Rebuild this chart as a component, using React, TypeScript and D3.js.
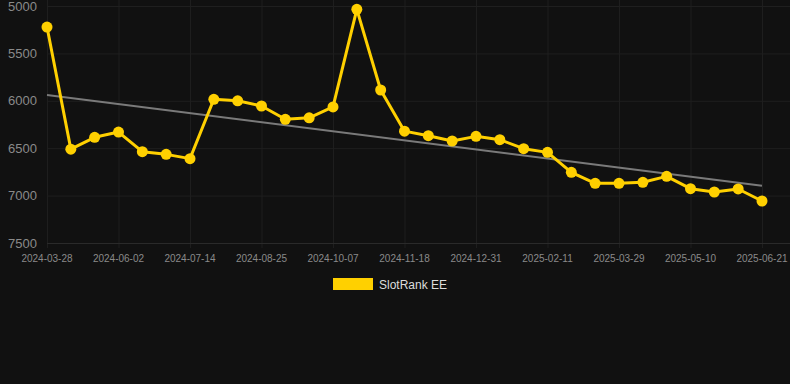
import React, { useEffect, useRef } from "react";
import * as d3 from "d3";

const dates = [
  "2024-03-28", "2024-04-19", "2024-05-11", "2024-06-02", "2024-06-16", "2024-06-30",
  "2024-07-14", "2024-07-28", "2024-08-11", "2024-08-25", "2024-09-08", "2024-09-22",
  "2024-10-07", "2024-10-21", "2024-11-04", "2024-11-18", "2024-12-02", "2024-12-16",
  "2024-12-31", "2025-01-14", "2025-01-28", "2025-02-11", "2025-02-26", "2025-03-13",
  "2025-03-29", "2025-04-12", "2025-04-26", "2025-05-10", "2025-05-24", "2025-06-07",
  "2025-06-21",
];
const ranks = [
  5222, 6510, 6385, 6330, 6537, 6565, 6610, 5984, 6000, 6055, 6195, 6180, 6065, 5035,
  5886, 6320, 6368, 6424, 6375, 6410, 6505, 6544, 6754, 6870, 6870, 6860, 6797, 6927,
  6962, 6930, 7057,
];
const trendValues = [5939, 6895];
const yTicks = [5000, 5500, 6000, 6500, 7000, 7500];
const seriesName = "SlotRank EE";

const W = 790;
const H = 384;
const M = { left: 47, right: 28, top: 6, bottom: 141 };

export default function App() {
  const ref = useRef<SVGSVGElement>(null);

  useEffect(() => {
    document.body.style.margin = "0";
    document.body.style.background = "#111111";
    const svg = d3.select(ref.current);
    svg.selectAll("*").remove();

    const x = d3.scalePoint<string>().domain(dates).range([M.left, W - M.right]);
    const y = d3.scaleLinear().domain([5000, 7500]).range([M.top, H - M.bottom]);
    const font = "Helvetica, Arial, 'Liberation Sans', sans-serif";

    svg.append("rect").attr("width", W).attr("height", H).attr("fill", "#111111");

    const labelDates = dates.filter((_, i) => i % 3 === 0);

    // vertical grid
    svg.append("g")
      .selectAll("line")
      .data(labelDates)
      .join("line")
      .attr("x1", (d) => x(d)! + 0.5)
      .attr("x2", (d) => x(d)! + 0.5)
      .attr("y1", 0)
      .attr("y2", H - M.bottom + 5)
      .attr("stroke", "#1e1e1e")
      .attr("stroke-width", 1);

    // horizontal grid
    svg.append("g")
      .selectAll("line")
      .data(yTicks)
      .join("line")
      .attr("x1", M.left)
      .attr("x2", W)
      .attr("y1", (d) => y(d) + 0.5)
      .attr("y2", (d) => y(d) + 0.5)
      .attr("stroke", (d) => (d === 7500 ? "#2a2a2a" : "#1f1f1f"))
      .attr("stroke-width", 1);

    // y labels
    svg.append("g")
      .selectAll("text")
      .data(yTicks)
      .join("text")
      .attr("x", 37)
      .attr("y", (d) => y(d))
      .attr("dy", "0.35em")
      .attr("text-anchor", "end")
      .attr("font-family", font)
      .attr("font-size", 13)
      .attr("fill", "#8a8a8a")
      .text((d) => String(d));

    // x labels
    svg.append("g")
      .selectAll("text")
      .data(labelDates)
      .join("text")
      .attr("x", (d) => x(d)!)
      .attr("y", H - M.bottom + 19)
      .attr("text-anchor", "middle")
      .attr("font-family", font)
      .attr("font-size", 10)
      .attr("fill", "#8a8a8a")
      .text((d) => d);

    // trend line
    svg.append("line")
      .attr("x1", x(dates[0])!)
      .attr("x2", x(dates[dates.length - 1])!)
      .attr("y1", y(trendValues[0]))
      .attr("y2", y(trendValues[1]))
      .attr("stroke", "#7a7a7a")
      .attr("stroke-width", 2);

    const data = dates.map((d, i) => ({ d, v: ranks[i] }));
    const line = d3.line<{ d: string; v: number }>()
      .x((p) => x(p.d)!)
      .y((p) => y(p.v));

    svg.append("path")
      .datum(data)
      .attr("d", line)
      .attr("fill", "none")
      .attr("stroke", "#FFD000")
      .attr("stroke-width", 3)
      .attr("stroke-linejoin", "round");

    svg.append("g")
      .selectAll("circle")
      .data(data)
      .join("circle")
      .attr("cx", (p) => x(p.d)!)
      .attr("cy", (p) => y(p.v))
      .attr("r", 5.5)
      .attr("fill", "#FFD000");

    // legend
    svg.append("rect")
      .attr("x", 333)
      .attr("y", 278)
      .attr("width", 40)
      .attr("height", 12)
      .attr("fill", "#FFD000");
    svg.append("text")
      .attr("x", 379)
      .attr("y", 288.5)
      .attr("font-family", font)
      .attr("font-size", 12)
      .attr("fill", "#dddddd")
      .text(seriesName);
  }, []);

  return <svg ref={ref} width={W} height={H} style={{ display: "block" }} />;
}
